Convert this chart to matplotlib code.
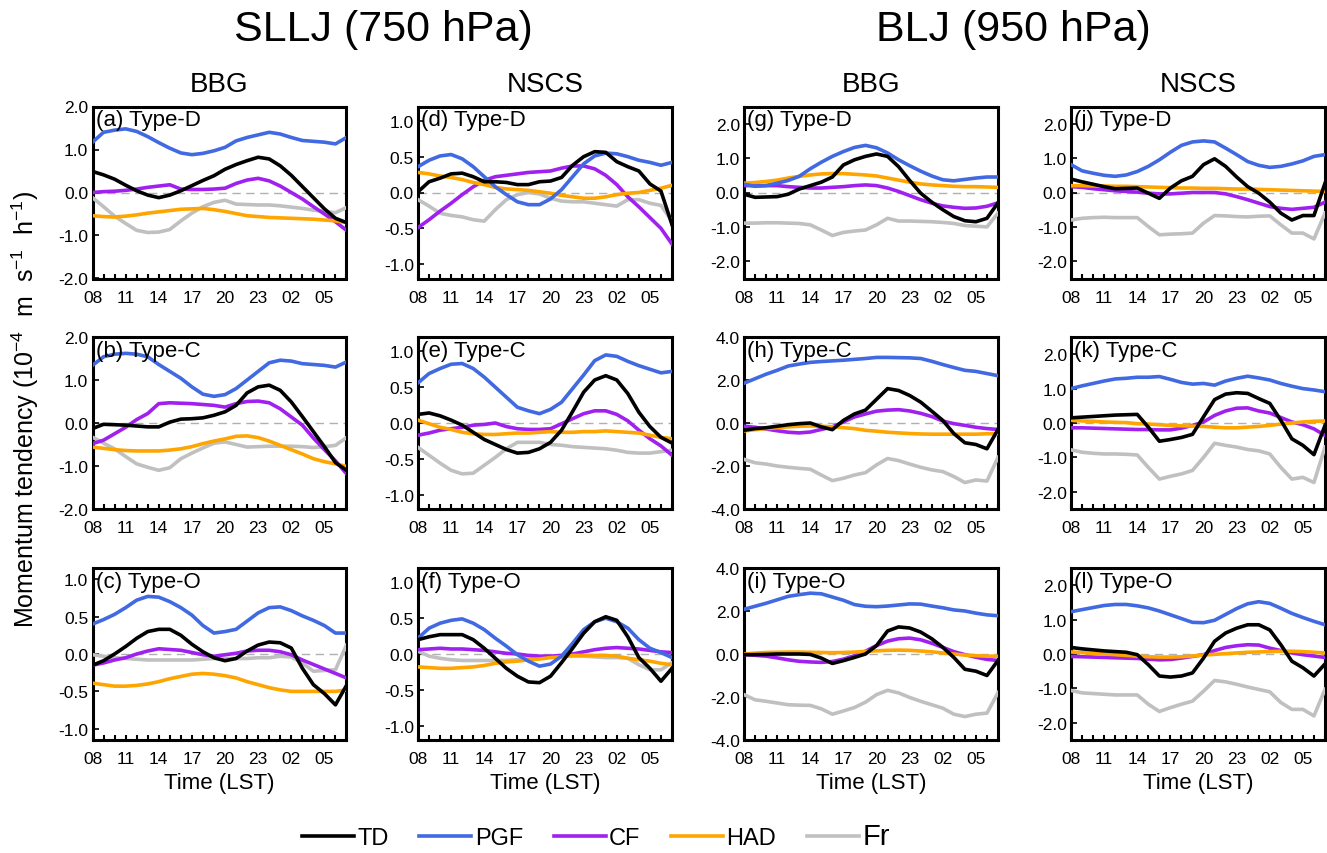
import numpy as np
import matplotlib
matplotlib.use("Agg")
import matplotlib.pyplot as plt
from matplotlib.lines import Line2D
from matplotlib.ticker import FormatStrFormatter, MultipleLocator

plt.rcParams["font.family"] = ["Liberation Sans", "DejaVu Sans"]
plt.rcParams["mathtext.default"] = "regular"

# Hours (LST) from 08 to 07 next day
hours = list(range(24))
hour_ticks = [0, 3, 6, 9, 12, 15, 18, 21]
hour_labels = ["08", "11", "14", "17", "20", "23", "02", "05"]

# Series names and colours
series_names = ["TD", "PGF", "CF", "HAD", "Fr"]
series_colors = {"TD": "#000000", "PGF": "#4169E1", "CF": "#A020F0", "HAD": "#FFA500", "Fr": "#C0C0C0"}

# (a) SLLJ BBG Type-D
a_td = [0.49, 0.41, 0.31, 0.17, 0.04, -0.06, -0.12, -0.06, 0.04, 0.16, 0.28, 0.39, 0.54, 0.65, 0.74, 0.82, 0.78, 0.62, 0.40, 0.14, -0.12, -0.38, -0.60, -0.70]
a_pgf = [1.17, 1.40, 1.45, 1.48, 1.42, 1.30, 1.16, 1.03, 0.92, 0.88, 0.91, 0.97, 1.05, 1.20, 1.28, 1.34, 1.40, 1.36, 1.28, 1.21, 1.19, 1.17, 1.13, 1.28]
a_cf = [0.00, 0.02, 0.03, 0.05, 0.08, 0.12, 0.15, 0.18, 0.08, 0.07, 0.07, 0.08, 0.10, 0.21, 0.29, 0.33, 0.27, 0.15, 0.00, -0.15, -0.33, -0.50, -0.68, -0.88]
a_had = [-0.54, -0.56, -0.57, -0.55, -0.52, -0.48, -0.45, -0.42, -0.39, -0.38, -0.37, -0.40, -0.44, -0.49, -0.54, -0.56, -0.58, -0.59, -0.60, -0.61, -0.62, -0.64, -0.66, -0.70]
a_fr = [-0.12, -0.33, -0.55, -0.72, -0.88, -0.93, -0.92, -0.86, -0.66, -0.48, -0.33, -0.23, -0.18, -0.27, -0.28, -0.29, -0.29, -0.31, -0.34, -0.37, -0.41, -0.44, -0.47, -0.35]

# (b) SLLJ BBG Type-C
b_td = [-0.13, -0.03, -0.04, -0.05, -0.07, -0.09, -0.09, 0.02, 0.09, 0.10, 0.12, 0.18, 0.26, 0.41, 0.70, 0.84, 0.88, 0.76, 0.49, 0.15, -0.20, -0.55, -0.92, -1.10]
b_pgf = [1.34, 1.54, 1.60, 1.62, 1.60, 1.54, 1.36, 1.20, 1.04, 0.84, 0.67, 0.62, 0.66, 0.80, 1.00, 1.20, 1.40, 1.46, 1.44, 1.38, 1.36, 1.34, 1.30, 1.42]
b_cf = [-0.48, -0.40, -0.25, -0.10, 0.08, 0.22, 0.45, 0.47, 0.46, 0.45, 0.43, 0.41, 0.37, 0.45, 0.50, 0.51, 0.47, 0.33, 0.14, -0.05, -0.35, -0.62, -0.88, -1.18]
b_had = [-0.56, -0.59, -0.62, -0.64, -0.65, -0.65, -0.65, -0.63, -0.60, -0.55, -0.48, -0.42, -0.37, -0.31, -0.30, -0.34, -0.42, -0.52, -0.62, -0.72, -0.83, -0.90, -0.95, -1.01]
b_fr = [-0.33, -0.47, -0.60, -0.78, -0.95, -1.03, -1.10, -1.04, -0.83, -0.70, -0.58, -0.47, -0.44, -0.50, -0.56, -0.55, -0.54, -0.54, -0.54, -0.55, -0.57, -0.55, -0.52, -0.34]

# (c) SLLJ BBG Type-O
c_td = [-0.15, -0.09, 0.00, 0.10, 0.21, 0.30, 0.33, 0.33, 0.25, 0.13, 0.03, -0.05, -0.09, -0.06, 0.04, 0.12, 0.16, 0.15, 0.08, -0.19, -0.41, -0.53, -0.68, -0.42]
c_pgf = [0.40, 0.46, 0.53, 0.62, 0.72, 0.77, 0.76, 0.70, 0.62, 0.52, 0.38, 0.28, 0.30, 0.33, 0.44, 0.55, 0.62, 0.63, 0.58, 0.51, 0.45, 0.38, 0.28, 0.28]
c_cf = [-0.15, -0.12, -0.08, -0.05, 0.00, 0.04, 0.07, 0.06, 0.05, 0.02, -0.01, -0.03, -0.01, 0.01, 0.04, 0.05, 0.05, 0.03, -0.01, -0.08, -0.14, -0.20, -0.26, -0.32]
c_had = [-0.39, -0.41, -0.43, -0.43, -0.42, -0.40, -0.37, -0.33, -0.30, -0.27, -0.26, -0.27, -0.29, -0.32, -0.37, -0.41, -0.45, -0.48, -0.50, -0.50, -0.50, -0.50, -0.50, -0.48]
c_fr = [-0.01, -0.03, -0.05, -0.06, -0.07, -0.08, -0.08, -0.08, -0.08, -0.08, -0.07, -0.06, -0.06, -0.06, -0.06, -0.05, -0.05, -0.03, -0.04, -0.12, -0.23, -0.22, -0.21, 0.12]

# (d) SLLJ NSCS Type-D
d_td = [0.01, 0.15, 0.20, 0.26, 0.27, 0.22, 0.15, 0.15, 0.14, 0.11, 0.11, 0.15, 0.16, 0.21, 0.38, 0.50, 0.57, 0.56, 0.43, 0.36, 0.30, 0.12, 0.02, -0.45]
d_pgf = [0.36, 0.45, 0.51, 0.53, 0.47, 0.36, 0.22, 0.08, -0.03, -0.13, -0.17, -0.17, -0.09, 0.04, 0.22, 0.40, 0.51, 0.55, 0.54, 0.50, 0.45, 0.42, 0.38, 0.42]
d_cf = [-0.49, -0.38, -0.26, -0.15, -0.03, 0.08, 0.17, 0.22, 0.24, 0.26, 0.28, 0.29, 0.30, 0.34, 0.37, 0.37, 0.33, 0.24, 0.11, -0.06, -0.20, -0.35, -0.50, -0.72]
d_had = [0.28, 0.26, 0.23, 0.21, 0.18, 0.14, 0.11, 0.07, 0.05, 0.04, 0.03, 0.01, -0.01, -0.04, -0.06, -0.08, -0.08, -0.06, -0.03, -0.01, 0.00, 0.03, 0.06, 0.10]
d_fr = [-0.10, -0.19, -0.29, -0.32, -0.34, -0.38, -0.40, -0.24, -0.10, -0.03, 0.00, -0.02, -0.08, -0.12, -0.13, -0.13, -0.15, -0.17, -0.19, -0.10, -0.10, -0.15, -0.18, -0.40]

# (e) SLLJ NSCS Type-C
e_td = [0.12, 0.14, 0.10, 0.04, -0.03, -0.13, -0.23, -0.30, -0.37, -0.42, -0.41, -0.36, -0.27, -0.10, 0.16, 0.43, 0.60, 0.66, 0.60, 0.41, 0.15, -0.05, -0.20, -0.28]
e_pgf = [0.56, 0.69, 0.76, 0.82, 0.83, 0.76, 0.64, 0.50, 0.36, 0.22, 0.17, 0.13, 0.19, 0.29, 0.48, 0.67, 0.87, 0.95, 0.93, 0.86, 0.80, 0.75, 0.70, 0.72]
e_cf = [-0.17, -0.14, -0.10, -0.08, -0.06, -0.03, -0.02, 0.00, -0.05, -0.08, -0.09, -0.09, -0.08, -0.01, 0.06, 0.13, 0.17, 0.17, 0.12, 0.03, -0.10, -0.22, -0.32, -0.45]
e_had = [0.04, -0.01, -0.06, -0.09, -0.13, -0.15, -0.16, -0.16, -0.15, -0.14, -0.14, -0.13, -0.12, -0.13, -0.13, -0.12, -0.12, -0.11, -0.12, -0.13, -0.14, -0.17, -0.20, -0.22]
e_fr = [-0.34, -0.45, -0.56, -0.66, -0.71, -0.70, -0.59, -0.48, -0.36, -0.27, -0.27, -0.27, -0.30, -0.31, -0.33, -0.34, -0.35, -0.36, -0.38, -0.41, -0.42, -0.42, -0.40, -0.38]

# (f) SLLJ NSCS Type-O
f_td = [0.20, 0.24, 0.27, 0.27, 0.27, 0.20, 0.08, -0.06, -0.20, -0.31, -0.39, -0.40, -0.31, -0.12, 0.08, 0.29, 0.45, 0.52, 0.47, 0.24, -0.05, -0.20, -0.38, -0.20]
f_pgf = [0.22, 0.36, 0.43, 0.47, 0.49, 0.43, 0.34, 0.22, 0.11, -0.01, -0.10, -0.17, -0.14, -0.03, 0.15, 0.34, 0.45, 0.50, 0.45, 0.36, 0.20, 0.08, 0.02, -0.05]
f_cf = [0.06, 0.07, 0.08, 0.07, 0.07, 0.06, 0.05, 0.03, 0.01, 0.00, -0.02, -0.03, -0.03, -0.02, 0.00, 0.03, 0.06, 0.08, 0.09, 0.08, 0.07, 0.05, 0.03, 0.02]
f_had = [-0.18, -0.19, -0.20, -0.20, -0.19, -0.18, -0.16, -0.13, -0.11, -0.10, -0.08, -0.07, -0.05, -0.04, -0.02, -0.02, -0.02, -0.02, -0.03, -0.06, -0.08, -0.10, -0.13, -0.15]
f_fr = [0.04, -0.03, -0.06, -0.08, -0.09, -0.09, -0.09, -0.09, -0.09, -0.08, -0.07, -0.06, -0.04, -0.03, -0.03, -0.03, -0.04, -0.05, -0.05, -0.06, -0.15, -0.22, -0.22, -0.12]

# (g) BLJ BBG Type-D
g_td = [-0.05, -0.14, -0.13, -0.12, -0.05, 0.10, 0.20, 0.30, 0.45, 0.80, 0.95, 1.05, 1.12, 1.05, 0.75, 0.35, -0.02, -0.28, -0.50, -0.70, -0.82, -0.85, -0.75, -0.30]
g_pgf = [0.24, 0.18, 0.20, 0.27, 0.35, 0.47, 0.69, 0.88, 1.05, 1.19, 1.31, 1.37, 1.30, 1.15, 0.95, 0.78, 0.62, 0.48, 0.37, 0.34, 0.38, 0.42, 0.45, 0.45]
g_cf = [0.20, 0.20, 0.20, 0.20, 0.17, 0.15, 0.13, 0.13, 0.15, 0.17, 0.20, 0.22, 0.20, 0.13, 0.03, -0.09, -0.21, -0.31, -0.39, -0.43, -0.46, -0.45, -0.40, -0.30]
g_had = [0.27, 0.29, 0.32, 0.36, 0.42, 0.47, 0.51, 0.54, 0.55, 0.55, 0.53, 0.51, 0.48, 0.42, 0.36, 0.30, 0.25, 0.22, 0.20, 0.18, 0.17, 0.17, 0.16, 0.15]
g_fr = [-0.89, -0.89, -0.88, -0.88, -0.89, -0.90, -0.94, -1.09, -1.25, -1.16, -1.12, -1.09, -0.94, -0.75, -0.83, -0.83, -0.84, -0.85, -0.87, -0.90, -0.96, -0.98, -1.00, -0.60]

# (h) BLJ BBG Type-C
h_td = [-0.34, -0.26, -0.22, -0.15, -0.08, -0.03, 0.00, -0.18, -0.31, 0.12, 0.42, 0.60, 1.10, 1.60, 1.51, 1.28, 0.97, 0.55, 0.12, -0.49, -0.92, -1.00, -1.20, -0.30]
h_pgf = [1.85, 2.06, 2.27, 2.45, 2.65, 2.74, 2.82, 2.86, 2.89, 2.92, 2.96, 3.00, 3.05, 3.05, 3.04, 3.03, 3.00, 2.87, 2.72, 2.58, 2.45, 2.40, 2.30, 2.20]
h_cf = [-0.15, -0.20, -0.28, -0.36, -0.43, -0.46, -0.42, -0.30, -0.18, 0.05, 0.28, 0.42, 0.55, 0.60, 0.62, 0.56, 0.45, 0.30, 0.09, -0.03, -0.11, -0.20, -0.26, -0.30]
h_had = [-0.37, -0.31, -0.26, -0.22, -0.18, -0.15, -0.14, -0.15, -0.18, -0.22, -0.26, -0.34, -0.38, -0.43, -0.46, -0.49, -0.51, -0.52, -0.52, -0.52, -0.52, -0.52, -0.50, -0.50]
h_fr = [-1.69, -1.85, -1.91, -2.00, -2.06, -2.11, -2.15, -2.42, -2.68, -2.57, -2.42, -2.31, -1.95, -1.65, -1.75, -1.91, -2.06, -2.18, -2.26, -2.49, -2.77, -2.65, -2.70, -1.60]

# (i) BLJ BBG Type-O
i_td = [-0.03, -0.03, -0.02, 0.00, 0.00, 0.00, -0.02, -0.19, -0.44, -0.31, -0.16, 0.00, 0.39, 1.07, 1.26, 1.21, 1.02, 0.71, 0.31, -0.16, -0.71, -0.80, -1.00, -0.30]
i_pgf = [2.08, 2.22, 2.36, 2.52, 2.68, 2.76, 2.83, 2.80, 2.65, 2.50, 2.30, 2.22, 2.20, 2.23, 2.28, 2.33, 2.32, 2.23, 2.15, 2.05, 2.00, 1.90, 1.82, 1.78]
i_cf = [-0.03, -0.06, -0.10, -0.18, -0.27, -0.34, -0.37, -0.39, -0.35, -0.24, -0.08, 0.13, 0.39, 0.60, 0.71, 0.74, 0.66, 0.50, 0.31, 0.11, -0.03, -0.15, -0.25, -0.30]
i_had = [0.00, 0.04, 0.07, 0.08, 0.09, 0.09, 0.08, 0.07, 0.06, 0.07, 0.09, 0.12, 0.15, 0.17, 0.18, 0.17, 0.14, 0.10, 0.05, 0.00, -0.05, -0.08, -0.10, -0.10]
i_fr = [-1.89, -2.13, -2.20, -2.28, -2.36, -2.38, -2.39, -2.55, -2.80, -2.65, -2.49, -2.24, -1.89, -1.69, -1.81, -2.02, -2.20, -2.36, -2.52, -2.80, -2.91, -2.80, -2.75, -1.80]

# (j) BLJ NSCS Type-D
j_td = [0.39, 0.31, 0.24, 0.17, 0.11, 0.12, 0.13, -0.02, -0.17, 0.13, 0.34, 0.47, 0.81, 0.98, 0.76, 0.45, 0.17, -0.02, -0.28, -0.60, -0.80, -0.67, -0.67, 0.27]
j_pgf = [0.81, 0.63, 0.56, 0.50, 0.47, 0.51, 0.61, 0.76, 0.95, 1.17, 1.37, 1.47, 1.50, 1.47, 1.29, 1.10, 0.90, 0.79, 0.73, 0.76, 0.83, 0.92, 1.05, 1.10]
j_cf = [0.17, 0.15, 0.11, 0.08, 0.05, 0.03, 0.01, -0.02, -0.04, -0.04, -0.02, 0.00, 0.00, 0.00, -0.04, -0.12, -0.21, -0.31, -0.41, -0.46, -0.49, -0.46, -0.43, -0.28]
j_had = [0.20, 0.20, 0.19, 0.19, 0.18, 0.18, 0.17, 0.16, 0.15, 0.14, 0.13, 0.13, 0.12, 0.12, 0.11, 0.10, 0.10, 0.09, 0.08, 0.07, 0.06, 0.05, 0.04, 0.03]
j_fr = [-0.80, -0.75, -0.73, -0.72, -0.73, -0.73, -0.73, -0.99, -1.23, -1.21, -1.20, -1.18, -0.89, -0.67, -0.68, -0.70, -0.71, -0.69, -0.68, -0.94, -1.18, -1.18, -1.35, -0.60]

# (k) BLJ NSCS Type-C
k_td = [0.15, 0.17, 0.19, 0.21, 0.23, 0.24, 0.25, -0.12, -0.53, -0.48, -0.42, -0.33, 0.18, 0.68, 0.84, 0.88, 0.86, 0.71, 0.57, 0.08, -0.46, -0.65, -0.92, -0.07]
k_pgf = [1.00, 1.08, 1.15, 1.22, 1.28, 1.30, 1.33, 1.33, 1.35, 1.27, 1.18, 1.13, 1.15, 1.10, 1.22, 1.30, 1.36, 1.31, 1.25, 1.15, 1.07, 1.00, 0.96, 0.91]
k_cf = [-0.14, -0.14, -0.15, -0.16, -0.17, -0.18, -0.19, -0.19, -0.20, -0.20, -0.15, -0.07, 0.03, 0.22, 0.35, 0.43, 0.44, 0.35, 0.29, 0.16, 0.03, -0.05, -0.17, -0.36]
k_had = [0.08, 0.06, 0.05, 0.03, 0.02, 0.01, -0.02, -0.03, -0.05, -0.07, -0.08, -0.09, -0.10, -0.12, -0.14, -0.14, -0.12, -0.10, -0.07, -0.03, 0.00, 0.03, 0.05, 0.06]
k_fr = [-0.78, -0.85, -0.88, -0.90, -0.90, -0.91, -0.93, -1.29, -1.63, -1.55, -1.48, -1.38, -1.00, -0.59, -0.65, -0.70, -0.77, -0.81, -0.90, -1.29, -1.63, -1.58, -1.73, -0.70]

# (l) BLJ NSCS Type-O
l_td = [0.19, 0.15, 0.12, 0.09, 0.07, 0.05, -0.02, -0.31, -0.64, -0.67, -0.64, -0.55, -0.12, 0.37, 0.61, 0.75, 0.85, 0.85, 0.70, 0.27, -0.21, -0.40, -0.64, -0.29]
l_pgf = [1.23, 1.29, 1.35, 1.41, 1.44, 1.44, 1.40, 1.34, 1.25, 1.14, 1.03, 0.92, 0.91, 0.98, 1.15, 1.32, 1.46, 1.52, 1.47, 1.33, 1.18, 1.06, 0.95, 0.85]
l_cf = [-0.07, -0.08, -0.09, -0.10, -0.11, -0.12, -0.13, -0.15, -0.17, -0.16, -0.12, -0.07, -0.02, 0.10, 0.19, 0.24, 0.27, 0.26, 0.17, 0.10, 0.03, -0.02, -0.06, -0.10]
l_had = [0.06, 0.04, 0.02, 0.00, -0.02, -0.04, -0.06, -0.08, -0.09, -0.09, -0.08, -0.06, -0.03, -0.01, 0.01, 0.03, 0.05, 0.06, 0.07, 0.08, 0.08, 0.07, 0.05, 0.03]
l_fr = [-1.06, -1.13, -1.15, -1.17, -1.19, -1.19, -1.19, -1.46, -1.67, -1.56, -1.46, -1.37, -1.08, -0.77, -0.81, -0.88, -0.96, -1.03, -1.10, -1.41, -1.61, -1.61, -1.80, -1.03]

# Panel table: (label, type, column, row, TD, PGF, CF, HAD, Fr)
panels = [
	("a", "Type-D", 0, 0, a_td, a_pgf, a_cf, a_had, a_fr),
	("b", "Type-C", 0, 1, b_td, b_pgf, b_cf, b_had, b_fr),
	("c", "Type-O", 0, 2, c_td, c_pgf, c_cf, c_had, c_fr),
	("d", "Type-D", 1, 0, d_td, d_pgf, d_cf, d_had, d_fr),
	("e", "Type-C", 1, 1, e_td, e_pgf, e_cf, e_had, e_fr),
	("f", "Type-O", 1, 2, f_td, f_pgf, f_cf, f_had, f_fr),
	("g", "Type-D", 2, 0, g_td, g_pgf, g_cf, g_had, g_fr),
	("h", "Type-C", 2, 1, h_td, h_pgf, h_cf, h_had, h_fr),
	("i", "Type-O", 2, 2, i_td, i_pgf, i_cf, i_had, i_fr),
	("j", "Type-D", 3, 0, j_td, j_pgf, j_cf, j_had, j_fr),
	("k", "Type-C", 3, 1, k_td, k_pgf, k_cf, k_had, k_fr),
	("l", "Type-O", 3, 2, l_td, l_pgf, l_cf, l_had, l_fr),
]

# y-axis settings per panel: (half range, tick step)
yaxis = {
	"a": (2.0, 1.0), "b": (2.0, 1.0), "c": (1.15, 0.5),
	"d": (1.2, 0.5), "e": (1.2, 0.5), "f": (1.2, 0.5),
	"g": (2.5, 1.0), "h": (4.0, 2.0), "i": (4.0, 2.0),
	"j": (2.5, 1.0), "k": (2.5, 1.0), "l": (2.5, 1.0),
}

W, H = 1327, 854
fig = plt.figure(figsize=(W / 100, H / 100), dpi=100)

col_left = [92.5, 418, 744, 1071]
row_top = [107.5, 338, 569]
ax_w, ax_h = 254, 172

draw_order = ["Fr", "CF", "HAD", "PGF", "TD"]

for (lab, typ, col, row, td, pgf, cf, had, fr) in panels:
	x0 = col_left[col] / W
	y0 = 1 - (row_top[row] + ax_h) / H
	ax = fig.add_axes([x0, y0, ax_w / W, ax_h / H])
	vals = {"TD": td, "PGF": pgf, "CF": cf, "HAD": had, "Fr": fr}
	ax.axhline(0, color="#b0b0b0", lw=1.0, ls=(0, (6, 4)), zorder=1)
	for name in draw_order:
		ax.plot(hours, vals[name], color=series_colors[name], lw=2.6, zorder=3, solid_joinstyle="round")
	lim, step = yaxis[lab]
	ax.set_xlim(0, 23)
	ax.set_ylim(-lim, lim)
	ax.set_xticks(hour_ticks)
	ax.set_xticklabels(hour_labels)
	ax.xaxis.set_minor_locator(MultipleLocator(1))
	ax.yaxis.set_major_locator(MultipleLocator(step))
	ax.yaxis.set_major_formatter(FormatStrFormatter("%.1f"))
	ax.tick_params(axis="x", which="both", direction="in", length=3.5, width=1.5, pad=8, labelsize=12.5, top=False)
	ax.tick_params(axis="y", which="both", direction="in", length=4, width=1.2, pad=3, labelsize=12.5, right=False)
	for sp in ax.spines.values():
		sp.set_linewidth(2.2)
	ax.text(0.012, 0.985, "(%s) %s" % (lab, typ), transform=ax.transAxes, ha="left", va="top", fontsize=16)
	if row == 2:
		ax.set_xlabel("Time (LST)", fontsize=16, labelpad=4)

# Titles and column headers
fig.text(0.2886, 0.965, "SLLJ (750 hPa)", ha="center", va="center", fontsize=31)
fig.text(0.7633, 0.965, "BLJ (950 hPa)", ha="center", va="center", fontsize=31)
for col, name in enumerate(["BBG", "NSCS", "BBG", "NSCS"]):
	fig.text((col_left[col] + ax_w / 2) / W, 0.900, name, ha="center", va="center", fontsize=20)

fig.text(0.019, 0.52, "Momentum tendency (10$^{-4}$  m  s$^{-1}$  h$^{-1}$)", rotation=90, ha="center", va="center", fontsize=18)

# Legend
handles = [Line2D([0], [0], color=series_colors[n], lw=2.6) for n in series_names]
leg = fig.legend(handles, series_names, loc="center", bbox_to_anchor=(0.449, 0.02), ncol=5, frameon=False,
	fontsize=17, handlelength=2.2, handletextpad=0.15, columnspacing=1.3)
leg.get_texts()[4].set_fontsize(21)

plt.savefig("out.png", dpi=100)
